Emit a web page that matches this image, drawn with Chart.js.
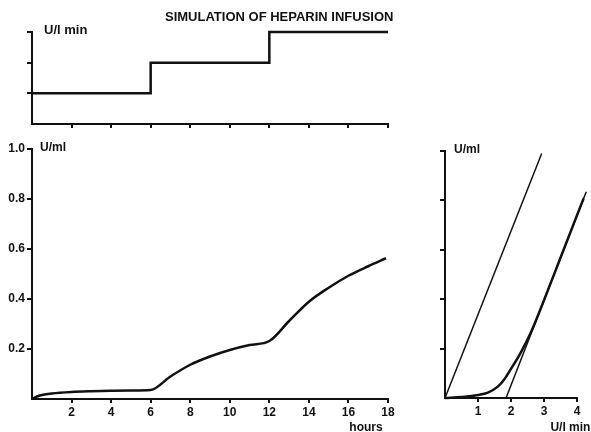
<!DOCTYPE html>
<html><head><meta charset="utf-8">
<script src="https://cdn.jsdelivr.net/npm/chart.js@4/dist/chart.umd.min.js"></script>
<style>
html,body{margin:0;padding:0;background:#fff;}
#wrap{position:relative;width:591px;height:432px;overflow:hidden;background:#fff;}
canvas{position:absolute;left:0;top:0;}
</style></head><body>
<div id="wrap">
<canvas id="cTop" width="591" height="432"></canvas>
<canvas id="cMain" width="591" height="432"></canvas>
<canvas id="cRight" width="591" height="432"></canvas>
</div>
<script>
// ---- data ----
const infusionTimes = [0, 6, 12, 18];
const infusionRates = [1, 2, 3, 3];
const hourTicks = [2, 4, 6, 8, 10, 12, 14, 16, 18];
const rateTicks = [1, 2, 3];

const heparinTimes  = [0, 0.25, 0.5, 1, 2, 3, 4, 5, 6, 7, 8, 9, 10, 11, 12, 13, 14, 15, 16, 17, 17.9];
const heparinLevels = [0, 0.010, 0.016, 0.022, 0.028, 0.031, 0.033, 0.034, 0.036, 0.090, 0.137, 0.170, 0.196, 0.216, 0.232, 0.312, 0.389, 0.445, 0.493, 0.531, 0.563];
const levelTicks = [0.2, 0.4, 0.6, 0.8, 1.0];
const levelLabels = ['0.2', '0.4', '0.6', '0.8', '1.0'];

const rateAxisTicks = [1, 2, 3, 4];
const line1Rate  = [0, 2.93];
const line1Level = [0, 0.99];
const line2Rate  = [1.85, 4.28];
const line2Level = [0, 0.835];
const curveRate  = [0, 0.5, 1, 1.3, 1.6, 1.8, 2.0, 2.3, 2.6, 3.0, 3.5, 4.2];
const curveLevel = [0, 0.004, 0.012, 0.022, 0.046, 0.076, 0.118, 0.185, 0.265, 0.396, 0.568, 0.808];

const titleText = 'SIMULATION OF HEPARIN INFUSION';

// ---- helpers ----
const FONT = 'Liberation Sans';
const INK = '#111';
const pts = (xs, ys) => xs.map((x, i) => ({x: x, y: ys[i]}));

function axis(opts) {
  return {
    type: 'linear',
    min: opts.min, max: opts.max,
    border: {display: true, color: INK, width: 2},
    grid: {display: true, drawOnChartArea: false, drawTicks: true, tickLength: opts.tickLength || 5, color: INK, lineWidth: 2},
    ticks: {
      display: opts.showLabels !== false,
      color: INK, padding: opts.padding || 2, maxRotation: 0, autoSkip: false,
      font: {family: FONT, size: 12, weight: 'bold'},
      callback: opts.callback || ((v) => String(v))
    },
    afterBuildTicks: (s) => { s.ticks = opts.tickValues.map(v => ({value: v})); },
    afterFit: (s) => {
      if (opts.width !== undefined) s.width = opts.width;
      if (opts.height !== undefined) s.height = opts.height;
      s.paddingLeft = 0; s.paddingRight = 0; s.paddingTop = 0; s.paddingBottom = 0;
    }
  };
}

function textPlugin(fn) {
  return {id: 'txt', afterDraw(chart) {
    const ctx = chart.ctx;
    ctx.save();
    ctx.fillStyle = INK;
    ctx.font = 'bold 12px "' + FONT + '"';
    fn(chart, ctx);
    ctx.restore();
  }};
}

const baseOpts = {
  responsive: false, animation: false, devicePixelRatio: 1,
  plugins: {legend: {display: false}, tooltip: {enabled: false}, title: {display: false}},
  elements: {point: {radius: 0}}
};

// ---- top chart: infusion rate ----
new Chart(document.getElementById('cTop'), {
  type: 'line',
  data: {datasets: [{
    data: pts(infusionTimes, infusionRates),
    stepped: 'before', borderColor: INK, borderWidth: 2.5, fill: false, clip: false
  }]},
  options: Object.assign({}, baseOpts, {
    layout: {padding: {left: 0, right: 203, top: 32, bottom: 298}},
    scales: {
      x: axis({min: 0, max: 18, tickValues: hourTicks, showLabels: false, height: 10, tickLength: 4}),
      y: axis({min: 0, max: 3, tickValues: rateTicks, showLabels: false, width: 32, tickLength: 5})
    }
  }),
  plugins: [textPlugin((chart, ctx) => {
    const x = chart.scales.x, y = chart.scales.y;
    ctx.font = 'bold 13px "' + FONT + '"';
    ctx.textAlign = 'left'; ctx.textBaseline = 'middle';
    ctx.fillText('U/l min', x.getPixelForValue(0) + 12, y.getPixelForValue(3) - 2);
    ctx.textAlign = 'center';
    ctx.fillText(titleText, x.getPixelForValue(12.5), y.getPixelForValue(3) - 15);
  })]
});

// ---- main chart: heparin level vs time ----
new Chart(document.getElementById('cMain'), {
  type: 'line',
  data: {datasets: [{
    data: pts(heparinTimes, heparinLevels),
    borderColor: INK, borderWidth: 2.5, fill: false, cubicInterpolationMode: 'monotone', clip: false
  }]},
  options: Object.assign({}, baseOpts, {
    layout: {padding: {left: 0, right: 203, top: 149, bottom: 13}},
    scales: {
      x: axis({min: 0, max: 18, tickValues: hourTicks, height: 20, tickLength: 4, padding: 2}),
      y: axis({min: 0, max: 1.0, tickValues: levelTicks, width: 32, tickLength: 5, padding: 2,
               callback: (v) => { const i = levelTicks.findIndex(t => Math.abs(t - v) < 1e-9); return i >= 0 ? levelLabels[i] : ''; }})
    }
  }),
  plugins: [textPlugin((chart, ctx) => {
    const x = chart.scales.x, y = chart.scales.y;
    ctx.textAlign = 'left'; ctx.textBaseline = 'middle';
    ctx.fillText('U/ml', x.getPixelForValue(0) + 8, y.getPixelForValue(1.0) - 1);
    ctx.textAlign = 'center';
    ctx.fillText('hours', x.getPixelForValue(18) - 22, chart.chartArea.bottom + 29);
  })]
});

// ---- right chart: level vs rate ----
new Chart(document.getElementById('cRight'), {
  type: 'line',
  data: {datasets: [
    {data: pts(line1Rate, line1Level), borderColor: INK, borderWidth: 1.5, fill: false, clip: false},
    {data: pts(line2Rate, line2Level), borderColor: INK, borderWidth: 1.5, fill: false, clip: false},
    {data: pts(curveRate, curveLevel), borderColor: INK, borderWidth: 2.5, fill: false, cubicInterpolationMode: 'monotone', clip: false}
  ]},
  options: Object.assign({}, baseOpts, {
    layout: {padding: {left: 425, right: 14, top: 151, bottom: 14}},
    scales: {
      x: axis({min: 0, max: 4, tickValues: rateAxisTicks, height: 20, tickLength: 4, padding: 2}),
      y: axis({min: 0, max: 1.0, tickValues: levelTicks, showLabels: false, width: 20, tickLength: 5})
    }
  }),
  plugins: [textPlugin((chart, ctx) => {
    const x = chart.scales.x, y = chart.scales.y;
    ctx.textAlign = 'left'; ctx.textBaseline = 'middle';
    ctx.fillText('U/ml', x.getPixelForValue(0) + 9, y.getPixelForValue(1.0) - 1);
    ctx.textAlign = 'center';
    ctx.fillText('U/l min', x.getPixelForValue(3.8), chart.chartArea.bottom + 30);
  })]
});
</script>
</body></html>
